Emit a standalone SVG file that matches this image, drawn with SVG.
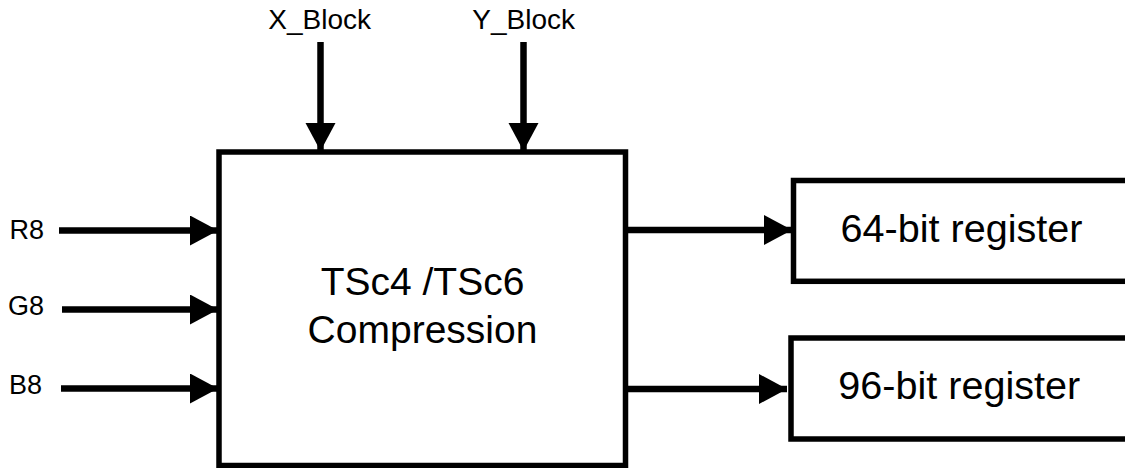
<svg xmlns="http://www.w3.org/2000/svg" width="1125" height="468" viewBox="0 0 1125 468">
<style>
.box{fill:#fff;stroke:#000;stroke-width:5.5}
.lbl{font-family:"Liberation Sans",Arial,sans-serif;fill:#000}
.conn{stroke:#000;stroke-width:6.5;fill:none}
</style>
<defs>
<marker id="ah" markerUnits="userSpaceOnUse" markerWidth="29" markerHeight="31" refX="28" refY="15" orient="auto" viewBox="0 0 29 31">
<path d="M0,0 L28,15 L0,30 z" fill="#000"/>
</marker>
</defs>
<rect width="1125" height="468" fill="#fff"/>
<g id="main">
<rect class="box" x="219" y="152" width="406.5" height="313.5"/>
<text class="lbl" x="422.5" y="295" font-size="39" text-anchor="middle">TSc4 /TSc6</text>
<text class="lbl" x="422.5" y="343" font-size="39" text-anchor="middle">Compression</text>
</g>
<g id="reg64">
<rect class="box" x="793.5" y="180.5" width="345" height="100.8"/>
<text class="lbl" x="840.5" y="241.5" font-size="39.6">64-bit register</text>
</g>
<g id="reg96">
<rect class="box" x="791" y="338" width="345" height="101"/>
<text class="lbl" x="838.3" y="399.3" font-size="39.6">96-bit register</text>
</g>
<g id="inputs">
<text class="lbl" x="9.5" y="239" font-size="27">R8</text>
<text class="lbl" x="8" y="315" font-size="27">G8</text>
<text class="lbl" x="9" y="394" font-size="27">B8</text>
<text class="lbl" x="319.7" y="29" font-size="28" text-anchor="middle">X_Block</text>
<text class="lbl" x="523.7" y="29" font-size="28" text-anchor="middle">Y_Block</text>
</g>
<g id="connectors">
<line class="conn" x1="59" y1="230.5" x2="218" y2="230.5" marker-end="url(#ah)"/>
<line class="conn" x1="62" y1="309.5" x2="218" y2="309.5" marker-end="url(#ah)"/>
<line class="conn" x1="61" y1="388.5" x2="218" y2="388.5" marker-end="url(#ah)"/>
<line class="conn" x1="320.5" y1="42" x2="320.5" y2="151" marker-end="url(#ah)"/>
<line class="conn" x1="523.5" y1="42" x2="523.5" y2="151" marker-end="url(#ah)"/>
<line class="conn" x1="626" y1="230" x2="792" y2="230" marker-end="url(#ah)"/>
<line class="conn" x1="626" y1="389" x2="787" y2="389" marker-end="url(#ah)"/>
</g>
</svg>
